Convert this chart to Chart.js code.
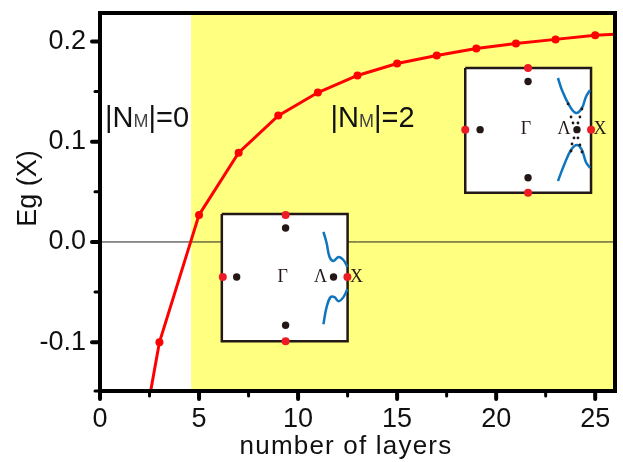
<!DOCTYPE html>
<html>
<head>
<meta charset="utf-8">
<script src="https://cdn.jsdelivr.net/npm/chart.js@4"></script>
<style>
  html, body { margin: 0; padding: 0; background: #fff; }
  canvas { display: block; }
</style>
</head>
<body>
<canvas id="chart" width="623" height="462"></canvas>
<script>
// main curve, first and last entries only run the line off the frame
const layers = [2.5, 3, 5, 7, 9, 11, 13, 15, 17, 19, 21, 23, 25, 26];
const gap = [-0.155, -0.1, 0.027, 0.089, 0.126, 0.149, 0.166, 0.178, 0.186, 0.193, 0.198, 0.202, 0.206, 0.207];
const markerSizes = [0, 4, 4, 4, 4, 4, 4, 4, 4, 4, 4, 4, 4, 0];

const xTicks = [0, 2.5, 5, 7.5, 10, 12.5, 15, 17.5, 20, 22.5, 25];
const xTickLabels = ['0', '', '5', '', '10', '', '15', '', '20', '', '25'];
const yTicks = [-0.1486, -0.1, -0.05, 0, 0.05, 0.1, 0.15, 0.2];
const yTickLabels = ['', '-0.1', '', '0.0', '', '0.1', '', '0.2'];

const xMin = 0, xMax = 26, yMin = -0.1486, yMax = 0.2283;
const yellowFrom = 4.6;

const zeroX = [0, 26];
const zeroY = [0, 0];

// lower inset
const box1X = [6.15, 12.5, 12.5, 6.15, 6.15];
const box1Y = [0.028, 0.028, -0.099, -0.099, 0.028];
const red1X = [9.37, 9.37, 6.2, 12.49];
const red1Y = [0.027, -0.099, -0.035, -0.035];
const black1X = [9.37, 9.37, 6.9, 11.79];
const black1Y = [0.014, -0.083, -0.035, -0.035];
const upper1X = [11.28, 11.44, 11.59, 11.79, 12.04, 12.29, 12.49];
const upper1Y = [0.010, -0.001, -0.015, -0.019, -0.015, -0.018, -0.025];
const lower1X = [11.28, 11.44, 11.64, 11.84, 12.04, 12.29, 12.49];
const lower1Y = [-0.082, -0.065, -0.055, -0.055, -0.059, -0.055, -0.047];

// upper inset
const box2X = [18.44, 24.79, 24.79, 18.44, 18.44];
const box2Y = [0.1735, 0.1735, 0.049, 0.049, 0.1735];
const red2X = [21.61, 21.61, 18.44, 24.79];
const red2Y = [0.1735, 0.049, 0.112, 0.112];
const black2X = [21.61, 21.61, 19.19, 24.08];
const black2Y = [0.160, 0.064, 0.112, 0.112];
const upper2X = [23.12, 23.32, 23.68, 24.03, 24.33, 24.53, 24.74];
const upper2Y = [0.1635, 0.1515, 0.1366, 0.1286, 0.1336, 0.1446, 0.1515];
const lower2X = [23.12, 23.43, 23.78, 24.08, 24.33, 24.53, 24.74];
const lower2Y = [0.0608, 0.0768, 0.0917, 0.0967, 0.0917, 0.0798, 0.0738];
const dots2X = [23.63, 23.78, 23.88, 24.33, 24.23, 24.13, 23.78, 23.83, 23.93, 24.33, 24.23, 24.13];
const dots2Y = [0.1376, 0.1246, 0.1186, 0.1326, 0.1246, 0.1186, 0.0907, 0.0977, 0.1037, 0.0897, 0.0967, 0.1037];

// inset letters
const letters = ['Γ', 'Λ', 'X', 'Γ', 'Λ', 'X'];
const lettersX = [9.22, 11.13, 12.95, 21.51, 23.43, 25.24];
const lettersY = [-0.035, -0.035, -0.035, 0.112, 0.112, 0.112];

// region labels
const regionsX = [0.25, 11.64];
const regionsY = [0.1147, 0.1147];
const regionsEnd = ['|=0', '|=2'];

const xTitle = 'number of layers';
const yTitle = 'Eg (X)';

const RED = '#ff0000';
const INK = '#231815';
const BLUE = '#0f75bc';
const TEXT = '#111';

function pts(xs, ys) {
  return xs.map((x, i) => ({ x: x, y: ys[i] }));
}

function lineSet(xs, ys, color, width, order, extra) {
  return Object.assign({
    data: pts(xs, ys),
    borderColor: color,
    borderWidth: width,
    pointRadius: 0,
    fill: false,
    order: order
  }, extra || {});
}

function dotSet(xs, ys, color, radius, order) {
  return {
    data: pts(xs, ys),
    showLine: false,
    pointRadius: radius,
    pointBackgroundColor: color,
    pointBorderWidth: 0,
    order: order
  };
}

const backdrop = {
  id: 'backdrop',
  beforeDatasetsDraw(chart) {
    const { ctx, chartArea, scales } = chart;
    const left = scales.x.getPixelForValue(yellowFrom);
    ctx.save();
    ctx.fillStyle = '#ffff80';
    ctx.fillRect(left, chartArea.top, chartArea.right - left, chartArea.bottom - chartArea.top);
    ctx.restore();
  }
};

const frame = {
  id: 'frame',
  afterDatasetsDraw(chart) {
    const { ctx, chartArea, scales } = chart;
    const a = chartArea;
    ctx.save();
    ctx.fillStyle = INK;
    ctx.textBaseline = 'middle';
    ctx.textAlign = 'center';
    ctx.font = '18px "Liberation Serif"';
    letters.forEach((t, i) => {
      ctx.fillText(t, scales.x.getPixelForValue(lettersX[i]), scales.y.getPixelForValue(lettersY[i]));
    });

    // |N_M|=n, M is set small
    ctx.textAlign = 'left';
    ctx.textBaseline = 'alphabetic';
    regionsX.forEach((rx, i) => {
      let x = scales.x.getPixelForValue(rx);
      const y = scales.y.getPixelForValue(regionsY[i]);
      [['|N', 29, TEXT], ['M', 18, '#444'], [regionsEnd[i], 29, TEXT]].forEach(([t, size, col]) => {
        ctx.font = size + 'px "Liberation Sans"';
        ctx.fillStyle = col;
        ctx.fillText(t, x, y);
        x += ctx.measureText(t).width;
      });
    });

    // axis titles, the reference sets them a little wide and off centre
    ctx.fillStyle = TEXT;
    ctx.textAlign = 'center';
    ctx.font = '26px "Liberation Sans"';
    ctx.letterSpacing = '1.2px';
    ctx.fillText(xTitle, 346, 454);
    ctx.letterSpacing = '0px';
    ctx.font = '27px "Liberation Sans"';
    ctx.translate(36, 188.5);
    ctx.rotate(-Math.PI / 2);
    ctx.fillText(yTitle, 0, 0);
    ctx.rotate(Math.PI / 2);
    ctx.translate(-36, -188.5);

    // axis frame and ticks
    ctx.strokeStyle = '#000';
    ctx.lineWidth = 4;
    ctx.strokeRect(a.left, a.top, a.right - a.left, a.bottom - a.top);
    ctx.lineCap = 'round';
    xTicks.forEach((v, i) => {
      const major = xTickLabels[i] !== '';
      const x = scales.x.getPixelForValue(v);
      ctx.lineWidth = major ? 4 : 3;
      ctx.beginPath();
      ctx.moveTo(x, a.bottom);
      ctx.lineTo(x, a.bottom + (major ? 8 : 5));
      ctx.stroke();
    });
    yTicks.forEach((v, i) => {
      const major = yTickLabels[i] !== '';
      const y = scales.y.getPixelForValue(v);
      ctx.lineWidth = major ? 4 : 3;
      ctx.beginPath();
      ctx.moveTo(a.left, y);
      ctx.lineTo(a.left - (major ? 8 : 5), y);
      ctx.stroke();
    });
    ctx.restore();
  }
};

new Chart(document.getElementById('chart'), {
  type: 'line',
  data: {
    datasets: [
      lineSet(layers, gap, RED, 3, 1, {
        pointRadius: markerSizes,
        pointBackgroundColor: RED,
        pointBorderWidth: 0
      }),
      dotSet(red1X, red1Y, '#ed1c24', 4, 2),
      dotSet(black1X, black1Y, INK, 3.7, 3),
      lineSet(upper1X, upper1Y, BLUE, 2.5, 4, { tension: 0.4 }),
      lineSet(lower1X, lower1Y, BLUE, 2.5, 4, { tension: 0.4 }),
      lineSet(box1X, box1Y, INK, 2.5, 5, { fill: 'shape', backgroundColor: '#fff' }),
      dotSet(red2X, red2Y, '#ed1c24', 4, 2),
      dotSet(black2X, black2Y, INK, 3.7, 3),
      dotSet(dots2X, dots2Y, INK, 1.4, 3),
      lineSet(upper2X, upper2Y, BLUE, 2.5, 4, { tension: 0.4 }),
      lineSet(lower2X, lower2Y, BLUE, 2.5, 4, { tension: 0.4 }),
      lineSet(box2X, box2Y, INK, 2.5, 5, { fill: 'shape', backgroundColor: '#fff' }),
      lineSet(zeroX, zeroY, '#222', 1, 6)
    ]
  },
  options: {
    responsive: false,
    animation: false,
    layout: { autoPadding: false, padding: { top: 13, right: 8, left: 0, bottom: 0 } },
    plugins: { legend: { display: false }, tooltip: { enabled: false } },
    scales: {
      x: {
        type: 'linear',
        min: xMin,
        max: xMax,
        grid: { display: false, drawTicks: false },
        border: { display: false },
        afterFit(s) { s.height = 71; s.paddingLeft = 0; s.paddingRight = 0; },
        afterBuildTicks(s) { s.ticks = xTicks.map(v => ({ value: v })); },
        ticks: {
          autoSkip: false,
          maxRotation: 0,
          padding: 12,
          color: TEXT,
          font: { family: '"Liberation Sans"', size: 27 },
          callback: (v, i) => xTickLabels[i]
        }
      },
      y: {
        type: 'linear',
        min: yMin,
        max: yMax,
        grid: { display: false, drawTicks: false },
        border: { display: false },
        afterFit(s) { s.width = 100; s.paddingTop = 0; s.paddingBottom = 0; },
        afterBuildTicks(s) { s.ticks = yTicks.map(v => ({ value: v })); },
        ticks: {
          autoSkip: false,
          padding: 14,
          color: TEXT,
          font: { family: '"Liberation Sans"', size: 27 },
          callback: (v, i) => yTickLabels[i]
        }
      }
    }
  },
  plugins: [backdrop, frame]
});
</script>
</body>
</html>
